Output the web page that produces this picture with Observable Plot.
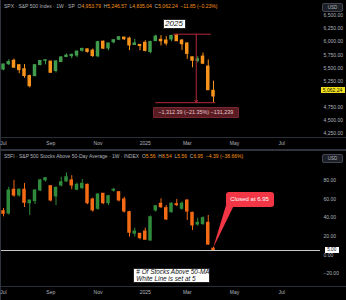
<!DOCTYPE html>
<html><head><meta charset="utf-8">
<script src="https://cdn.jsdelivr.net/npm/d3@7"></script>
<script src="https://cdn.jsdelivr.net/npm/@observablehq/plot@0.6"></script>
<style>
html,body{margin:0;padding:0;background:#000;}
#root{position:relative;width:346px;height:300px;background:#000;overflow:hidden;font-family:"Liberation Sans",Arial,sans-serif;}
#root svg{position:absolute;left:0;}
.ttl{position:absolute;left:4px;font-size:5px;line-height:6px;color:#b2b5be;white-space:nowrap;}
.ttl .v{color:#f7931a;}
.usd{position:absolute;width:21px;height:9px;box-sizing:border-box;border:1px solid #434651;background:#1c1f26;border-radius:2px;color:#b2b5be;font-size:4.5px;line-height:7px;text-align:center;}
.hl{position:absolute;left:0;width:346px;background:#2a2e39;}
.ov{position:absolute;box-sizing:border-box;white-space:nowrap;text-align:center;}
</style></head>
<body><div id="root"></div>
<script>
// ---- data ----
const weeks = ["2024-07-01","2024-07-08","2024-07-15","2024-07-22","2024-07-29","2024-08-05","2024-08-12","2024-08-19","2024-08-26","2024-09-02","2024-09-09","2024-09-16","2024-09-23","2024-09-30","2024-10-07","2024-10-14","2024-10-21","2024-10-28","2024-11-04","2024-11-11","2024-11-18","2024-11-25","2024-12-02","2024-12-09","2024-12-16","2024-12-23","2024-12-30","2025-01-06","2025-01-13","2025-01-20","2025-01-27","2025-02-03","2025-02-10","2025-02-17","2025-02-24","2025-03-03","2025-03-10","2025-03-17","2025-03-24","2025-03-31","2025-04-07"];
const spxOpen  = [5471,5572,5638,5553,5476,5151,5345,5557,5637,5623,5442,5615,5711,5726,5737,5830,5857,5833,5723,6003,5874,5992,6040,6083,6063,5940,5920,5982,5805,6014,6012,5969,6046,6121,6026,5968,5705,5635,5718,5527,4953.79];
const spxHigh  = [5570,5655,5670,5563,5566,5363,5563,5643,5651,5623,5636,5716,5767,5765,5820,5878,5863,5863,6012,6018,5972,6044,6099,6085,6090,6049,5941,6021,6014,6128,6120,6101,6127,6147,6043,5986,5705,5715,5786,5655,5246.57];
const spxLow   = [5446,5546,5497,5390,5303,5120,5328,5540,5560,5402,5406,5604,5698,5675,5696,5807,5786,5703,5696,5853,5830,5963,6024,6026,5832,5932,5829,5809,5773,6014,5923,5923,6003,6008,5837,5666,5504,5597,5572,5070,4835.04];
const spxClose = [5567,5615,5505,5459,5346,5344,5554,5634,5648,5408,5626,5702,5738,5751,5815,5865,5808,5729,5995,5870,5969,6032,6090,6051,5931,5971,5942,5827,5997,6101,6040,6026,6114,6013,5955,5770,5639,5667,5581,5074,5062.24];

const s5Open  = [47,44.5,70,63.9,70,55.6,57.8,69.2,80,73.8,62.8,74.5,78.8,80,70,71.7,75.3,59.6,49.6,65.7,55.6,69,67.4,59.6,46,23,22.9,25.3,15.7,47.8,55,50.3,46,54.5,49.6,58.5,45.3,32.8,33.2,34.6,5.56];
const s5High  = [50,72.7,80,71,76.7,58.5,70,81,83,74,73,83.4,88,85,77,81,76,61,66,66,64,71.5,68,62,47,28.9,23,28.9,42,53,60.3,53,56,59.6,57,59,46,39.6,41,42.5,8.54];
const s5Low   = [41,43,62,62,51,42.5,54.2,68,78.2,57,53,73,78,70,69,70,54,46,48,54,53,67.5,57,45,19.3,19.3,16.5,16,15,46,50,37,45,52,48,37,26.4,31,32,10.5,5.56];
const s5Close = [44.3,69.2,63.8,70,56,58.5,69.2,80,82.4,58.5,72,78,83.4,74.5,75.3,76.4,55.6,47.9,64.9,55.6,63.1,70,58.5,46.7,24,25.3,18.2,16.5,40.6,52.4,51.3,38.2,55,53.5,55,46.7,31.8,34.6,39.6,11.34,6.95];

const xTickDates  = ["2024-07-01","2024-09-02","2024-11-04","2025-01-06","2025-03-03","2025-05-05","2025-07-07"];
const xTickLabels = ["Jul","Sep","Nov","2025","Mar","May","Jul"];
const spxTicks = [4250,4500,4750,5250,5500,5750,6000,6250,6500];
const s5Ticks  = [-20,0,20,40,60,80];

// annotations (data units)
const rangeHigh = 6147.43, rangeLow = 4835.04;
const rangeTopSpan = ["2025-02-13","2025-04-04"];
const rangeBotSpan = ["2025-01-20","2025-04-10"];
const rangeMid = "2025-03-15";
const rangeLabel = "\u22121,312.39 (\u221221.35%) \u2212131,239";
const lastSpx = 5062.24;
const whiteLine = 5;
const lastS5 = 6.95;

// ---- build ----
const GREEN_T = "#3f9c4c", ORANGE_T = "#f7931a", GREEN_B = "#2f8a3c", ORANGE_B = "#f56a14", RED = "#b3283a";
const dt = s => new Date(s + "T00:00:00Z");
const DAY = 864e5;
const d0 = new Date(dt("2024-07-01") - 2.667 * DAY);
const d1 = new Date(+d0 + 425.33 * DAY);
const labelMap = new Map(xTickDates.map((d, i) => [+dt(d), xTickLabels[i]]));

function rows(O, H, L, C, up, dn) {
  return weeks.map((w, i) => {
    const prev = i ? C[i - 1] : O[i];
    return {date: dt(w), open: O[i], high: H[i], low: L[i], close: C[i],
      lo: Math.min(O[i], C[i]), hi: Math.max(O[i], C[i]),
      color: C[i] >= prev ? up : dn};
  });
}
const spx = rows(spxOpen, spxHigh, spxLow, spxClose, GREEN_T, ORANGE_T);
const s5 = rows(s5Open, s5High, s5Low, s5Close, GREEN_B, ORANGE_B);
const half = d => new Date(+d - 2.33 * DAY), half2 = d => new Date(+d + 2.33 * DAY);

function candles(data) {
  return [
    Plot.ruleX(data, {x: "date", y1: "low", y2: "high", stroke: "color", strokeWidth: 1}),
    Plot.rect(data, {x1: d => half(d.date), x2: d => half2(d.date), y1: "lo", y2: "hi", fill: "color", insetTop: -0.5, insetBottom: -0.5})
  ];
}
const common = {
  width: 346, marginLeft: 1, marginRight: 26, marginTop: 0,
  style: {background: "transparent", color: "#b2b5be", fontSize: "5px", fontFamily: "Liberation Sans, Arial, sans-serif", overflow: "visible"},
  x: {type: "utc", domain: [d0, d1]},
  color: {type: "identity"}
};
const axX = () => Plot.axisX({ticks: xTickDates.map(dt), tickFormat: d => labelMap.get(+d), tickSize: 0, tickPadding: 4, label: null, fill: "#b2b5be"});

const topChart = Plot.plot({
  ...common, height: 150, marginBottom: 13,
  y: {domain: [4168, 6793]},
  marks: [
    axX(),
    Plot.axisY({anchor: "right", ticks: spxTicks, tickFormat: d3.format(",.2f"), tickSize: 0, tickPadding: 3, label: null, fill: "#b2b5be"}),
    ...candles(spx),
    Plot.ruleY([rangeHigh], {y: d => d, x1: dt(rangeTopSpan[0]), x2: dt(rangeTopSpan[1]), stroke: RED, strokeWidth: 1}),
    Plot.ruleY([rangeLow], {y: d => d, x1: dt(rangeBotSpan[0]), x2: dt(rangeBotSpan[1]), stroke: RED, strokeWidth: 1}),
    Plot.arrow([{a: rangeHigh, b: rangeLow}], {x1: dt(rangeMid), x2: dt(rangeMid), y1: "a", y2: "b", stroke: RED, strokeWidth: 1, headLength: 4})
  ]
});

const botChart = Plot.plot({
  ...common, height: 149, marginBottom: 14,
  y: {domain: [-33.5, 110.9]},
  marks: [
    axX(),
    Plot.axisY({anchor: "right", ticks: s5Ticks, tickFormat: d3.format(",.2f"), tickSize: 0, tickPadding: 3, label: null, fill: "#b2b5be"}),
    Plot.ruleY([whiteLine], {stroke: "#c9c9c9", strokeWidth: 1}),
    ...candles(s5)
  ]
});

const root = document.getElementById("root");
const BOT = 151;
topChart.style.top = "0px";
botChart.style.top = BOT + "px";

function div(cls, css, html) {
  const e = document.createElement("div");
  if (cls) e.className = cls;
  Object.assign(e.style, css);
  if (html != null) e.innerHTML = html;
  root.appendChild(e);
  return e;
}
// frame lines
div("hl", {top: "137px", height: "1px", background: "#2a2e39"});
div("hl", {top: "149px", height: "2px", background: "#2f333e"});
div("hl", {top: "286px", height: "1px", background: "#2a2e39"});
div(null, {position: "absolute", left: "0px", top: "0px", width: "1px", height: "300px", background: "#2f333e"});

root.appendChild(topChart);
root.appendChild(botChart);

// titles
const v = s => `<span class="v">${s}</span>`;
div("ttl", {top: "3px"}, `SPX \u00b7 S&amp;P 500 Index \u00b7 1W \u00b7 SP&nbsp;&nbsp;O${v("4,953.79")}&nbsp;&nbsp;H${v("5,246.57")}&nbsp;&nbsp;L${v("4,835.04")}&nbsp;&nbsp;C${v("5,062.24")}&nbsp;&nbsp;${v("\u221211.85 (\u22120.23%)")}`);
div("ttl", {top: "153px"}, `S5FI \u00b7 S&amp;P 500 Stocks Above 50-Day Average \u00b7 1W \u00b7 INDEX&nbsp;&nbsp;O${v("5.56")}&nbsp;&nbsp;H${v("8.54")}&nbsp;&nbsp;L${v("5.56")}&nbsp;&nbsp;C${v("6.95")}&nbsp;&nbsp;${v("\u22124.39 (\u221238.66%)")}`);
div("usd", {left: "322px", top: "3px"}, "USD");
div("usd", {left: "322px", top: "154px"}, "USD");

// scale helpers
const tx = topChart.scale("x"), ty = topChart.scale("y");
const bx = botChart.scale("x"), by = botChart.scale("y");

// last price label (yellow)
const yl = ty.apply(lastSpx);
div("ov", {left: "320.5px", top: (yl - 3.3) + "px", width: "24px", height: "6.4px", background: "#f2e21b", color: "#111", fontSize: "5px", lineHeight: "6.4px"}, "5,062.24");

// 2025 box
const bx25 = tx.apply(dt("2025-02-14")), by25 = ty.apply(6327);
div("ov", {left: (bx25 - 11.5) + "px", top: (by25 - 5) + "px", width: "23px", height: "10px", background: "#fff", border: "1px solid #222", color: "#111", fontSize: "8px", lineHeight: "8px", fontStyle: "italic"}, "2025");

// range label
const xm = tx.apply(dt(rangeMid)), yLow = ty.apply(rangeLow);
div("ov", {left: (xm - 43) + "px", top: (yLow + 4.5) + "px", width: "86px", height: "11.6px", background: "#5a1c23", border: "1px solid #7a2630", borderRadius: "1px", color: "#eac9cd", fontSize: "5.4px", lineHeight: "9.6px"}, rangeLabel);

// 5.00 white label on price axis
const y5 = by.apply(whiteLine) + BOT;
div("ov", {left: "324.5px", top: (y5 - 2.6) + "px", width: "14.5px", height: "5.4px", background: "#fff", color: "#111", fontSize: "4.6px", lineHeight: "5.4px"}, "5.00");

// Closed at callout
const tipX = bx.apply(dt(weeks[weeks.length - 1])), tipY = by.apply(lastS5) + BOT;
const ns = "http://www.w3.org/2000/svg";
const ov = document.createElementNS(ns, "svg");
ov.setAttribute("width", 346); ov.setAttribute("height", 300);
ov.style.top = "0px"; ov.style.position = "absolute";
const poly = document.createElementNS(ns, "polygon");
poly.setAttribute("points", `${tipX},${tipY} ${tipX + 13},${tipY - 43} ${tipX + 21},${tipY - 43}`);
poly.setAttribute("fill", "#f23645");
ov.appendChild(poly);
root.appendChild(ov);
div("ov", {left: (tipX + 12.6) + "px", top: (tipY - 56) + "px", width: "48px", height: "14.4px", background: "#f23645", borderRadius: "3px", color: "#fff", fontSize: "6px", lineHeight: "14.4px"}, "Closed at 6.95");

// note box
div("ov", {left: "133.3px", top: "267.7px", width: "77px", height: "15.6px", background: "#fff", border: "1px solid #222", color: "#111", fontSize: "6.4px", lineHeight: "6.8px", fontStyle: "italic", textAlign: "left", padding: "0.5px 0 0 2px"}, "# Of Stocks Above 50-MA<br>White Line is set at 5");
</script></body></html>
